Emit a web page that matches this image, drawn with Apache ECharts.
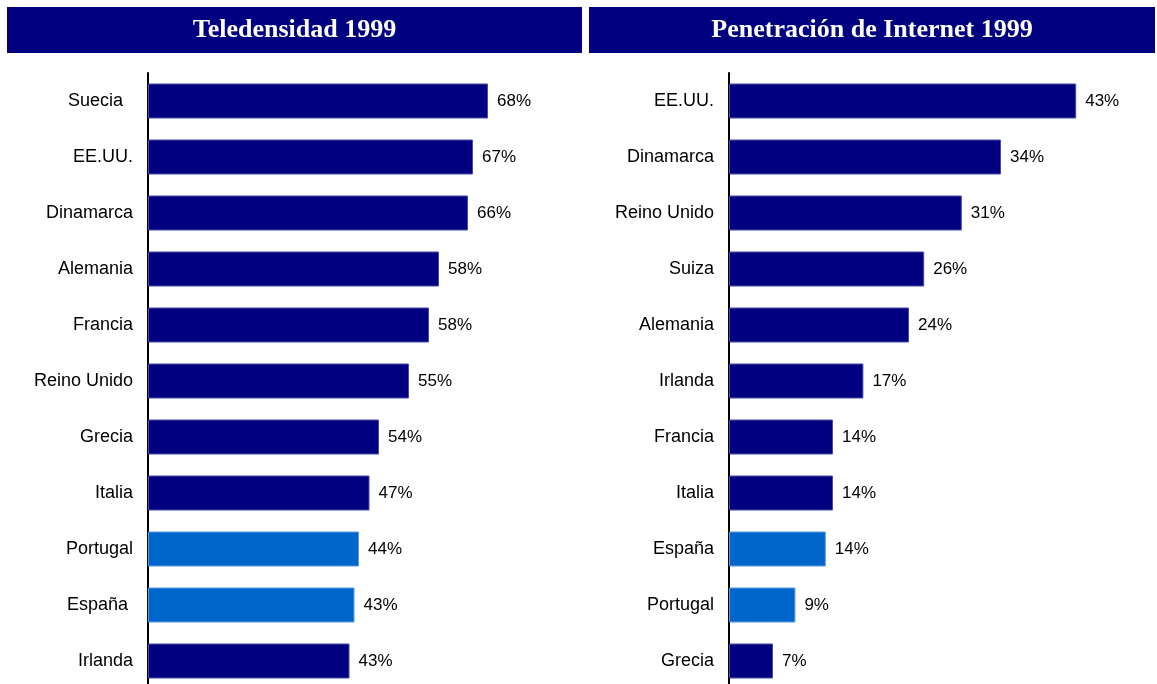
<!DOCTYPE html>
<html>
<head>
<meta charset="utf-8">
<title>Teledensidad y Penetración de Internet 1999</title>
<script src="https://cdn.jsdelivr.net/npm/echarts@6/dist/echarts.min.js"></script>
<style>
    html, body { margin: 0; padding: 0; background: #fff; }
    #chart { width: 1157px; height: 684px; }
</style>
</head>
<body>
<div id="chart"></div>
<script>
    var fontFamily = 'Liberation Sans, Arial, sans-serif';
    var navy = '#000080';
    var highlight = '#0066cc';

    // Teledensidad 1999
    var teleCountries = ['Suecia  ', 'EE.UU.', 'Dinamarca', 'Alemania', 'Francia', 'Reino Unido', 'Grecia', 'Italia', 'Portugal', 'España ', 'Irlanda'];
    var teleValues = [68, 65, 64, 58.2, 56.2, 52.2, 46.2, 44.3, 42.2, 41.3, 40.3];
    var teleLabels = ['68%', '67%', '66%', '58%', '58%', '55%', '54%', '47%', '44%', '43%', '43%'];
    var teleHighlight = ['Portugal', 'España '];

    // Penetración de Internet 1999
    var netCountries = ['EE.UU.', 'Dinamarca', 'Reino Unido', 'Suiza', 'Alemania', 'Irlanda', 'Francia', 'Italia', 'España', 'Portugal', 'Grecia'];
    var netValues = [43.4, 34, 29.1, 24.4, 22.5, 16.8, 13, 13, 12.1, 8.3, 5.5];
    var netLabels = ['43%', '34%', '31%', '26%', '24%', '17%', '14%', '14%', '14%', '9%', '7%'];
    var netHighlight = ['España', 'Portugal'];

    function barData(countries, values, marked) {
        return values.map(function (v, i) {
            var hi = marked.indexOf(countries[i]) >= 0;
            return {
                value: v,
                itemStyle: {
                    color: hi ? highlight : navy,
                    borderColor: hi ? '#5a9be0' : '#4a4aa8',
                    borderWidth: 1
                }
            };
        });
    }

    function header(x, width, text) {
        return [{
            type: 'rect',
            shape: { x: x, y: 7, width: width, height: 46 },
            style: { fill: navy }
        }, {
            type: 'text',
            x: x + width / 2,
            y: 30,
            style: {
                text: text,
                fill: '#fff',
                font: 'bold 26px "Liberation Serif", "Times New Roman", serif',
                textAlign: 'center',
                textVerticalAlign: 'middle'
            }
        }];
    }

    function yAxis(grid, countries, margin) {
        return {
            type: 'category',
            gridIndex: grid,
            data: countries,
            inverse: true,
            axisLine: { show: true, lineStyle: { color: '#000', width: 2 } },
            axisTick: { show: false },
            axisLabel: {
                margin: margin,
                color: '#000',
                fontSize: 18,
                fontFamily: fontFamily
            }
        };
    }

    function series(idx, countries, values, labels, marked) {
        return {
            type: 'bar',
            xAxisIndex: idx,
            yAxisIndex: idx,
            barWidth: 35,
            data: barData(countries, values, marked),
            label: {
                show: true,
                position: 'right',
                distance: 9,
                color: '#000',
                fontSize: 17,
                fontFamily: fontFamily,
                formatter: function (p) { return labels[p.dataIndex]; }
            },
            silent: true,
            animation: false
        };
    }

    var chart = echarts.init(document.getElementById('chart'));
    var option = {
        backgroundColor: '#fff',
        graphic: header(7, 575, 'Teledensidad 1999').concat(header(589, 566, 'Penetración de Internet 1999')),
        // the plot runs a few pixels past the bottom edge, as in the original
        grid: [
            { left: 148, top: 73, width: 400, height: 616, outerBoundsMode: 'none', containLabel: false },
            { left: 729, top: 73, width: 400, height: 616, outerBoundsMode: 'none', containLabel: false }
        ],
        xAxis: [
            { type: 'value', gridIndex: 0, min: 0, max: 80, show: false },
            { type: 'value', gridIndex: 1, min: 0, max: 50, show: false }
        ],
        yAxis: [
            yAxis(0, teleCountries, 15),
            yAxis(1, netCountries, 15)
        ],
        series: [
            series(0, teleCountries, teleValues, teleLabels, teleHighlight),
            series(1, netCountries, netValues, netLabels, netHighlight)
        ]
    };
    chart.setOption(option);
</script>
</body>
</html>
